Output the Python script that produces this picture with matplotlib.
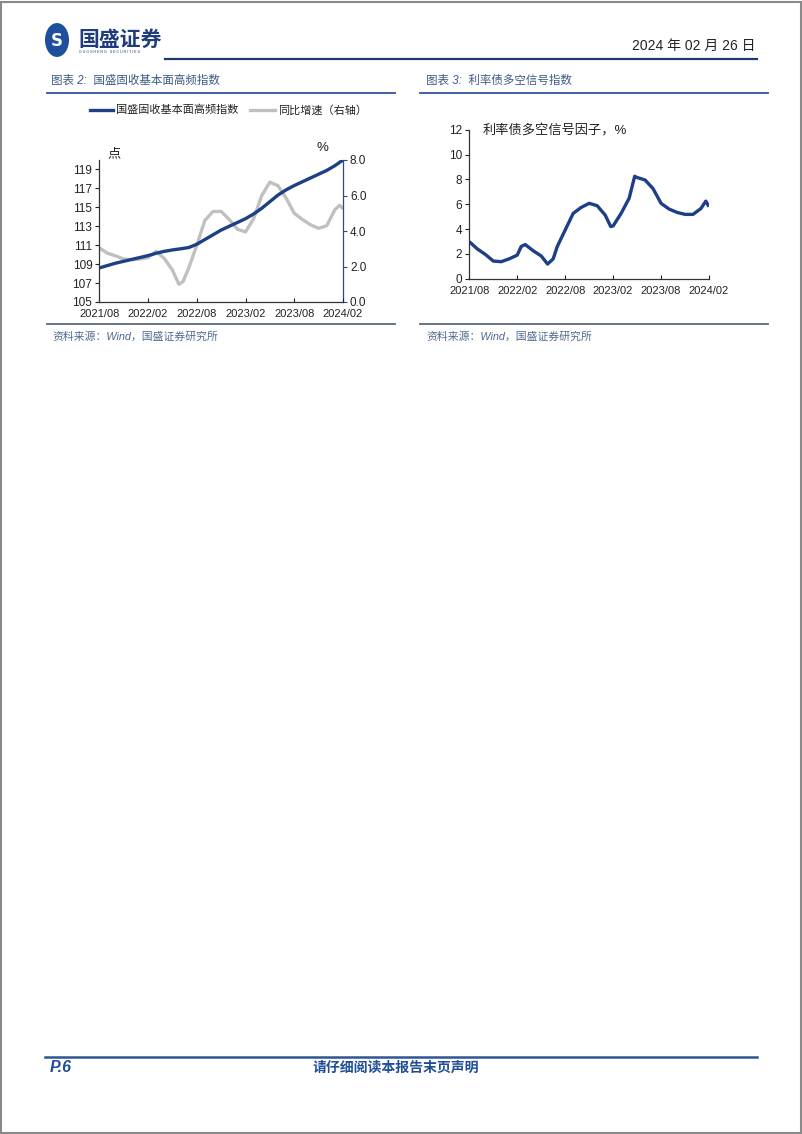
import matplotlib
matplotlib.use("Agg")
import matplotlib.pyplot as plt
from matplotlib.patches import Circle, Rectangle
from matplotlib.lines import Line2D

plt.rcParams['font.family'] = ['Liberation Sans', 'Noto Sans CJK SC', 'DejaVu Sans']

# ---------------- data ----------------
tick_labels = ["2021/08", "2022/02", "2022/08", "2023/02", "2023/08", "2024/02"]
tick_months = [0, 6, 12, 18, 24, 30]

# Chart 2: index (left axis) and YoY growth (right axis); x = months since 2021/08
index_months = [0, 1, 2, 3, 4, 5, 6, 7, 8, 9, 10, 11, 12, 13, 14, 15, 16, 17, 18, 19, 20,
                21, 22, 23, 24, 25, 26, 27, 28, 29, 30]
index_values = [108.6, 108.85, 109.1, 109.3, 109.5, 109.7, 109.9, 110.15, 110.35, 110.5, 110.62,
                110.75, 111.1, 111.6, 112.1, 112.6, 113.0, 113.4, 113.8, 114.3, 114.9,
                115.6, 116.3, 116.85, 117.3, 117.7, 118.1, 118.5, 118.9, 119.4, 120.0]
yoy_months = [0, 1, 2, 3, 4, 5, 6, 7, 8, 9, 9.5, 9.8, 10.3, 11, 12, 13, 14, 15, 16, 17, 18,
              19, 20, 21, 22, 23, 24, 25, 26, 27, 28, 29, 29.6, 30]
yoy_values = [3.05, 2.75, 2.6, 2.42, 2.38, 2.42, 2.5, 2.85, 2.45, 1.8, 1.3, 1.0, 1.15, 1.9, 3.2,
              4.6, 5.1, 5.1, 4.65, 4.1, 3.95, 4.7, 6.0, 6.75, 6.55, 5.85, 5.0, 4.65, 4.35,
              4.15, 4.3, 5.2, 5.45, 5.25]

# Chart 3: signal factor
sig_months = [0, 1, 2, 3, 4, 5, 6, 6.5, 7, 8, 9, 9.8, 10.5, 11, 12, 13, 14, 15, 16, 17, 17.7,
              18, 19, 20, 20.7, 21, 22, 23, 24, 25, 26, 27, 28, 29, 29.6, 30]
sig_values = [2.98, 2.4, 1.96, 1.42, 1.37, 1.6, 1.9, 2.6, 2.75, 2.25, 1.83, 1.18, 1.6, 2.58,
              3.92, 5.26, 5.74, 6.07, 5.88, 5.13, 4.2, 4.25, 5.26, 6.47, 8.25, 8.15, 7.95,
              7.25, 6.07, 5.61, 5.34, 5.18, 5.18, 5.66, 6.25, 5.8]

W, H = 802, 1134
fig = plt.figure(figsize=(W / 100, H / 100), dpi=100)

def fx(x):
    return x / W

def fy(y):
    return 1 - y / H

NAVY = "#1c3f86"
TITLE_C = "#3d5a84"
GREY_LINE = "#c0c0c0"

# page border
fig.add_artist(Rectangle((0.001, 0.001), 0.998, 0.997, transform=fig.transFigure,
                         fill=False, edgecolor="#8a8a8a", lw=1.5))

# ---------------- header ----------------
fig.add_artist(Circle((fx(57), fy(40)), 12 / W, transform=fig.transFigure,
                      facecolor="#1d4f9c", edgecolor="none"))
fig.text(fx(57), fy(41), "S", color="white", fontsize=12, fontweight="bold",
         ha="center", va="center", family=["DejaVu Sans"])
fig.text(fx(78), fy(39), "国盛证券", fontsize=15, fontweight="bold", color="#1f3d7a",
         ha="left", va="center", family=["Noto Sans CJK SC"])
fig.text(fx(79), fy(52), "G U O S H E N G   S E C U R I T I E S", fontsize=2.6,
         color="#1f3d7a", ha="left", va="center")
fig.text(fx(755), fy(46), "2024 年 02 月 26 日", fontsize=10, color="#222222",
         ha="right", va="center")
fig.add_artist(Line2D([fx(165), fx(757)], [fy(59), fy(59)], transform=fig.transFigure,
                      color="#1f3a6e", lw=1.6))

# section titles and rules
fig.text(fx(51), fy(81), "图表 2:  国盛固收基本面高频指数", fontsize=8.3, color=TITLE_C,
         style="italic", ha="left", va="center")
fig.text(fx(426), fy(81), "图表 3:  利率债多空信号指数", fontsize=8.3, color=TITLE_C,
         style="italic", ha="left", va="center")
for x0, x1 in [(47, 395), (420, 768)]:
    fig.add_artist(Line2D([fx(x0), fx(x1)], [fy(93), fy(93)], transform=fig.transFigure,
                          color="#2f5597", lw=1.3))
    fig.add_artist(Line2D([fx(x0), fx(x1)], [fy(324), fy(324)], transform=fig.transFigure,
                          color="#56697e", lw=1.3))
fig.text(fx(52), fy(337), "资料来源：Wind，国盛证券研究所", fontsize=7.8, color="#4f6a8f",
         style="italic", ha="left", va="center")
fig.text(fx(426), fy(337), "资料来源：Wind，国盛证券研究所", fontsize=7.8, color="#4f6a8f",
         style="italic", ha="left", va="center")

# footer
fig.add_artist(Line2D([fx(45), fx(757)], [fy(1057), fy(1057)], transform=fig.transFigure,
                      color="#2f5597", lw=1.8))
fig.text(fx(50), fy(1068), "P.6", fontsize=11.5, fontweight="bold", style="italic",
         color="#1f4e96", ha="left", va="center")
fig.text(fx(396), fy(1068), "请仔细阅读本报告末页声明", fontsize=10, fontweight="bold",
         color="#1f4e96", ha="center", va="center")

# ---------------- chart 2 ----------------
axL = fig.add_axes([fx(99.3), fy(302), fx(343) - fx(99.3), fy(160) - fy(302)])
axR = axL.twinx()
axR.plot(yoy_months, yoy_values, color=GREY_LINE, lw=2.4, solid_joinstyle="round",
         solid_capstyle="butt")
axL.plot(index_months, index_values, color=NAVY, lw=2.4, solid_joinstyle="round",
         solid_capstyle="butt")
axL.set_zorder(axR.get_zorder() + 1)
axL.patch.set_visible(False)

axL.set_xlim(0, 30)
axL.set_ylim(105, 120)
axR.set_ylim(0, 8)
axL.set_yticks([105, 107, 109, 111, 113, 115, 117, 119])
axR.set_yticks([0, 2, 4, 6, 8])
axR.set_yticklabels(["0.0", "2.0", "4.0", "6.0", "8.0"])
axL.set_xticks(tick_months)
axL.set_xticklabels(tick_labels)
for a in (axL, axR):
    a.spines["top"].set_visible(False)
axL.spines["right"].set_visible(False)
axR.spines["left"].set_visible(False)
axR.spines["bottom"].set_visible(False)
axL.spines["left"].set_color("#333333")
axL.spines["bottom"].set_color("#333333")
axR.spines["right"].set_color("#2c4a86")
for a in (axL, axR):
    for s in a.spines.values():
        s.set_linewidth(0.9)
axL.tick_params(axis="y", direction="out", length=3, width=0.8, labelsize=8.5, pad=2,
                colors="#222222")
axL.tick_params(axis="x", direction="in", length=3, width=0.8, labelsize=8, pad=5,
                colors="#222222")
axR.tick_params(axis="y", direction="out", length=3, width=0.8, labelsize=8.5, pad=2,
                colors="#222222")
axR.tick_params(axis="y", color="#2c4a86")

fig.text(fx(114), fy(154), "点", fontsize=9.5, color="#222222", ha="center", va="center")
fig.text(fx(322), fy(148), "%", fontsize=9.5, color="#222222", ha="center", va="center")

# legend (manual, above the plot)
fig.add_artist(Line2D([fx(90), fx(113)], [fy(110), fy(110)], transform=fig.transFigure,
                      color=NAVY, lw=2.4))
fig.text(fx(116), fy(110), "国盛固收基本面高频指数", fontsize=8, color="#222222",
         ha="left", va="center")
fig.add_artist(Line2D([fx(250), fx(275)], [fy(110), fy(110)], transform=fig.transFigure,
                      color=GREY_LINE, lw=2.4))
fig.text(fx(278), fy(110), "同比增速（右轴）", fontsize=8, color="#222222",
         ha="left", va="center")

# ---------------- chart 3 ----------------
ax3 = fig.add_axes([fx(469.3), fy(278.7), fx(709) - fx(469.3), fy(129.7) - fy(278.7)])
ax3.plot(sig_months, sig_values, color=NAVY, lw=2.4, solid_joinstyle="round",
         solid_capstyle="butt")
ax3.set_xlim(0, 30)
ax3.set_ylim(0, 12)
ax3.set_yticks([0, 2, 4, 6, 8, 10, 12])
ax3.set_xticks(tick_months)
ax3.set_xticklabels(tick_labels)
ax3.spines["top"].set_visible(False)
ax3.spines["right"].set_visible(False)
for s in ("left", "bottom"):
    ax3.spines[s].set_color("#333333")
    ax3.spines[s].set_linewidth(0.9)
ax3.tick_params(axis="y", direction="out", length=3, width=0.8, labelsize=8.5, pad=2,
                colors="#222222")
ax3.tick_params(axis="x", direction="in", length=3, width=0.8, labelsize=8, pad=5,
                colors="#222222")
fig.text(fx(483), fy(131), "利率债多空信号因子，%", fontsize=9.5, color="#222222",
         ha="left", va="center")

fig.savefig("out.png", dpi=100)
